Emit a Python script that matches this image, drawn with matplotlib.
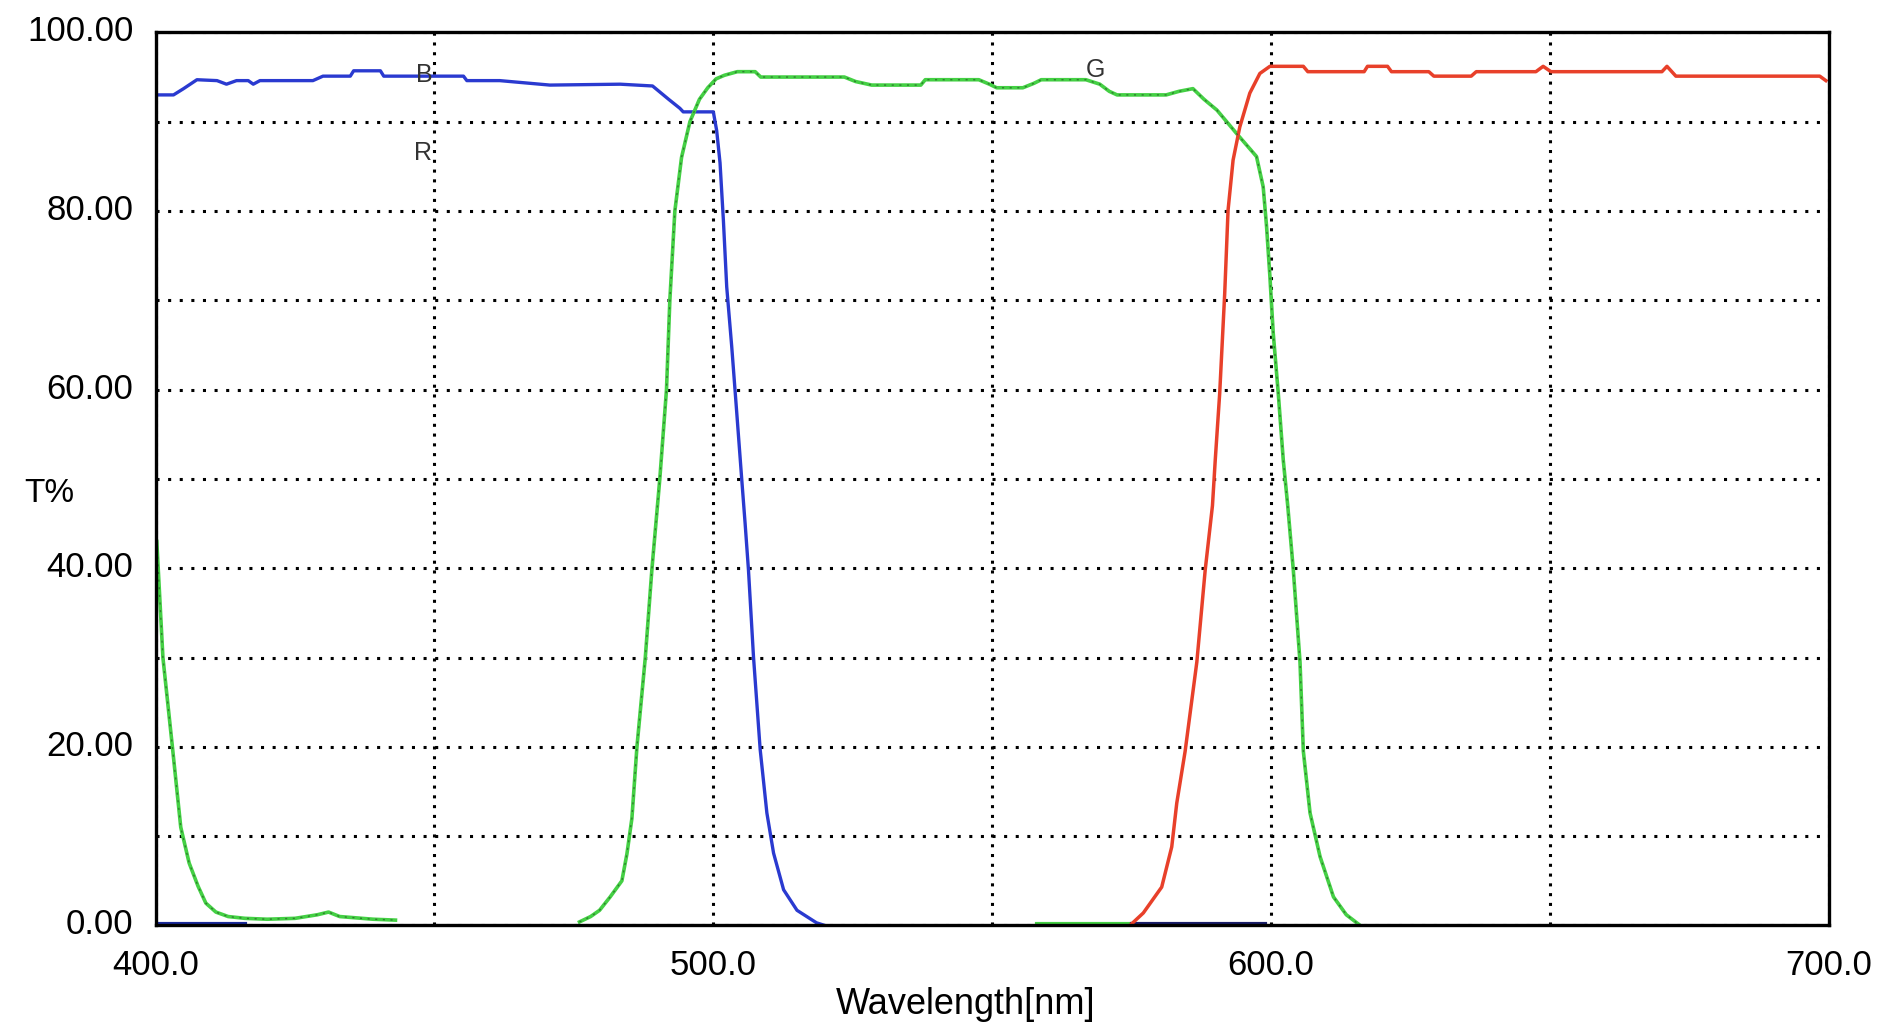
import matplotlib
matplotlib.use("Agg")
import matplotlib.pyplot as plt
import matplotlib.transforms as mtransforms
import numpy as np

plt.rcParams['font.family'] = ['Liberation Sans', 'DejaVu Sans']

# ---------------- data ----------------
# Blue filter (B)
b_wl = [400.5, 403.2, 405.0, 407.4, 411.0, 412.7, 414.5, 416.6, 417.5, 418.7, 428.2, 430.0,
        434.9, 435.5, 440.3, 440.9, 455.2, 455.8, 461.7, 470.7, 483.3, 489.1, 492.0, 494.0,
        494.6, 500.0, 500.6, 501.2, 501.8, 502.4, 503.3, 504.2, 505.1, 505.7, 506.3, 507.2,
        508.4, 509.6, 510.8, 512.6, 515.0, 518.5, 520.0]
b_t = [93.0, 93.0, 93.7, 94.7, 94.6, 94.2, 94.6, 94.6, 94.2, 94.6, 94.6, 95.1,
       95.1, 95.7, 95.7, 95.1, 95.1, 94.6, 94.6, 94.1, 94.2, 94.0, 92.5, 91.5,
       91.1, 91.1, 89.0, 85.4, 79.0, 71.5, 64.8, 57.4, 49.9, 45.0, 39.8, 30.1,
       19.7, 12.6, 8.1, 4.0, 1.7, 0.3, 0.0]

# Green filter (G) - short-wave leak
g1_wl = [400.2, 401.3, 403.0, 404.5, 406.0, 407.6, 409.0, 410.8, 413.0, 416.0, 420.0,
         425.0, 429.0, 431.0, 433.0, 437.0, 439.0, 443.0]
g1_t = [43.0, 30.0, 20.0, 11.0, 7.0, 4.4, 2.5, 1.5, 1.0, 0.8, 0.7,
        0.8, 1.2, 1.5, 1.0, 0.8, 0.7, 0.6]

# Green filter (G) - main band
g2_wl = [476.0, 478.0, 479.6, 481.5, 483.6, 484.5, 485.4, 486.3, 487.8, 489.0, 490.4,
         491.6, 492.2, 493.1, 494.3, 495.8, 497.5, 499.0, 500.5, 502.0, 504.3, 507.5,
         508.5, 523.5, 525.5, 528.4, 537.2, 538.0, 547.6, 549.5, 550.8, 555.5, 557.5,
         558.8, 566.8, 569.3, 571.0, 572.4, 581.2, 583.5, 586.0, 588.0, 590.3, 593.8,
         597.4, 598.6, 599.2, 599.8, 600.4, 601.3, 602.2, 603.0, 604.0, 605.2, 605.8,
         607.0, 608.8, 611.2, 613.5, 616.0]
g2_t = [0.4, 1.0, 1.7, 3.2, 5.0, 8.0, 12.0, 20.0, 30.0, 40.0, 50.0,
        60.0, 70.0, 80.0, 86.0, 90.0, 92.5, 93.8, 94.8, 95.2, 95.6, 95.6,
        95.0, 95.0, 94.5, 94.1, 94.1, 94.7, 94.7, 94.2, 93.8, 93.8, 94.3,
        94.7, 94.7, 94.2, 93.4, 93.0, 93.0, 93.4, 93.7, 92.5, 91.3, 88.7,
        86.1, 82.7, 78.3, 72.7, 66.3, 59.6, 52.1, 47.0, 39.8, 29.5, 19.5,
        12.6, 7.7, 3.2, 1.2, 0.0]

# Red filter (R)
r_wl = [574.7, 577.1, 580.4, 582.2, 583.1, 584.6, 586.7, 588.2, 589.5, 590.0, 590.8,
        591.7, 592.3, 593.2, 594.4, 596.2, 598.0, 599.8, 605.8, 606.6, 616.7, 617.3,
        620.9, 621.6, 628.3, 629.2, 635.9, 636.8, 647.5, 648.8, 650.2, 670.1, 671.0,
        672.6, 698.4, 699.5]
r_t = [0.0, 1.4, 4.3, 8.8, 13.7, 19.5, 29.5, 39.8, 47.0, 52.1, 59.6,
       70.8, 80.1, 85.7, 89.4, 93.2, 95.4, 96.2, 96.2, 95.6, 95.6, 96.2,
       96.2, 95.6, 95.6, 95.1, 95.1, 95.6, 95.6, 96.2, 95.6, 95.6, 96.2,
       95.1, 95.1, 94.6]

# near-zero baseline traces
bb_wl = [400.0, 416.0]
bb_t = [0.2, 0.2]
gb_wl = [558.0, 575.0]
gb_t = [0.2, 0.2]
nb_wl = [575.0, 599.0]
nb_t = [0.2, 0.2]

x_ticks = [400, 500, 600, 700]
x_ticklabels = ["400.0", "500.0", "600.0", "700.0"]
x_minor = [450, 550, 650]
y_ticks = [0, 20, 40, 60, 80, 100]
y_ticklabels = ["0.00", "20.00", "40.00", "60.00", "80.00", "100.00"]
y_minor = [10, 30, 50, 70, 90]

curve_labels = [("B", 448.2, 95.2), ("R", 448.0, 86.5), ("G", 568.6, 95.8)]

# ---------------- figure ----------------
fig = plt.figure(figsize=(18.8, 10.25), dpi=100)
ax = fig.add_axes([0.0828, 0.0971, 0.8899, 0.8713])

blue = "#2a3ad0"
green = "#44d044"
red = "#e8402a"

ax.plot(b_wl, b_t, color=blue, lw=2.4, zorder=3)
ax.plot(g1_wl, g1_t, color=green, lw=2.6, zorder=3)
ax.plot(g1_wl, g1_t, color="#2a6a2a", lw=1.0, ls=(0, (1.5, 4)), zorder=3.1, alpha=0.8)
ax.plot(g2_wl, g2_t, color=green, lw=2.6, zorder=3)
ax.plot(g2_wl, g2_t, color="#2a6a2a", lw=1.0, ls=(0, (1.5, 4)), zorder=3.1, alpha=0.8)
ax.plot(r_wl, r_t, color=red, lw=2.5, zorder=3)
ax.plot(bb_wl, bb_t, color="#1a2a9a", lw=3.0, zorder=2)
ax.plot(gb_wl, gb_t, color=green, lw=3.0, zorder=2)
ax.plot(nb_wl, nb_t, color="#1a1f6a", lw=3.0, zorder=2)

for txt, xx, yy in curve_labels:
    ax.text(xx, yy, txt, fontsize=18, color="#333333", ha="center", va="center", zorder=4)

ax.set_xlim(400, 700)
ax.set_ylim(0, 100)
ax.set_xticks(x_ticks)
ax.set_xticklabels(x_ticklabels)
ax.set_xticks(x_minor, minor=True)
ax.set_yticks(y_ticks)
ax.set_yticklabels(y_ticklabels)
ax.set_yticks(y_minor, minor=True)

ax.tick_params(which="both", length=0)
ax.tick_params(axis="x", labelsize=25, pad=17)
ax.tick_params(axis="y", labelsize=25, pad=16)

ax.grid(True, which="both", axis="y", color="black", lw=2.2, ls=(0, (1, 2.8)))
ax.grid(True, which="both", axis="x", color="black", lw=2.2, ls=(0, (1, 2.2)))
ax.set_axisbelow(True)

for sp in ax.spines.values():
    sp.set_linewidth(2.4)
    sp.set_color("black")
    sp.set_zorder(5)

# shift y tick labels slightly upward
offset = mtransforms.ScaledTranslation(0, 4 / 100, fig.dpi_scale_trans)
for lab in ax.get_yticklabels():
    lab.set_transform(lab.get_transform() + offset)

ax.set_xlabel("Wavelength[nm]", fontsize=26)
ax.xaxis.set_label_coords(0.4844, -0.089)
ax.xaxis.label.set_va("center")
ax.set_ylabel("T%", fontsize=24, rotation=0)
ax.yaxis.set_label_coords(-0.0637, 0.484)
ax.yaxis.label.set_va("center")
ax.yaxis.label.set_ha("center")

fig.savefig("out.png", dpi=100, facecolor="white")
